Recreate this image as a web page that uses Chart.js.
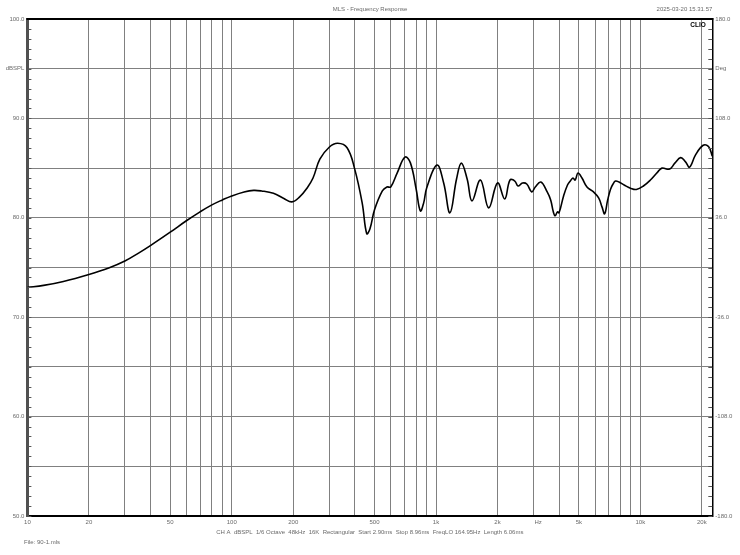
<!DOCTYPE html>
<html>
<head>
<meta charset="utf-8">
<script src="https://cdn.jsdelivr.net/npm/chart.js@4/dist/chart.umd.min.js"></script>
<style>
html,body{margin:0;padding:0;background:#fff;}
#wrap{width:740px;height:555px;position:relative;}
</style>
</head>
<body>
<div id="wrap"><canvas id="c" width="740" height="555" style="width:740px;height:555px"></canvas></div>
<script>
// ---- data ----
const freqHz = [10,12,15,20,25,30,35,40,50,60,70,80,90,100,115,128,140,160,180,197,215,234,250,270,300,330,367,400,435,458,475,500,546,575,600,645,705,750,800,838,870,900,1010,1090,1170,1260,1330,1420,1500,1650,1810,2000,2170,2300,2430,2520,2650,2780,2940,3060,3260,3500,3640,3750,3830,3930,4000,4210,4400,4540,4680,4800,4950,5180,5480,5900,6250,6490,6690,6920,7140,7350,7560,7860,8330,9010,9560,10350,11200,12150,12750,13900,14750,15750,16600,17420,18600,20300,21600,22500];
const splDb = [73.0,73.2,73.6,74.3,74.95,75.65,76.45,77.2,78.55,79.7,80.6,81.3,81.8,82.2,82.6,82.76,82.7,82.46,81.95,81.6,82.1,83.0,84.0,85.9,87.1,87.5,87.05,84.9,81.5,78.4,78.9,80.8,82.7,83.1,83.1,84.5,86.1,85.5,82.85,80.7,81.5,83.0,85.3,83.5,80.5,83.9,85.5,83.9,81.7,83.8,81.0,83.5,81.9,83.8,83.7,83.2,83.5,83.4,82.6,83.1,83.6,82.6,81.8,80.6,80.2,80.6,80.5,82.2,83.3,83.7,84.0,83.8,84.5,84.0,83.1,82.6,82.0,81.1,80.4,81.8,82.85,83.4,83.7,83.6,83.3,82.95,82.85,83.2,83.8,84.6,85.0,84.9,85.5,86.05,85.65,85.1,86.3,87.3,87.15,86.2];

const xGrid = [10,20,30,40,50,60,70,80,90,100,200,300,400,500,600,700,800,900,1000,2000,3000,4000,5000,6000,7000,8000,9000,10000,20000];
const xLabels = {10:'10',20:'20',50:'50',100:'100',200:'200',500:'500',1000:'1k',2000:'2k',3162:'Hz',5000:'5k',10000:'10k',20000:'20k'};
const hzPos = 3162;
const yLabels = {100:'100.0',95:'dBSPL',90:'90.0',80:'80.0',70:'70.0',60:'60.0',50:'50.0'};
const y2Labels = {180:'180.0',144:'Deg',108:'108.0',36:'36.0','-36':'-36.0','-108':'-108.0','-180':'-180.0'};

const titleText = 'MLS - Frequency Response';
const dateText = '2025-03-20 15.31.57';
const footerText = 'CH A  dBSPL  1/6 Octave  48kHz  16K  Rectangular  Start 2.90ms  Stop 8.96ms  FreqLO 164.95Hz  Length 6.06ms';
const fileText = 'File: 90-1.mls';

const FONT = "'Liberation Sans', Arial, sans-serif";
const TXT = '#6a6a6a';
const GRID = '#808080';

const textPlugin = {
  id: 'extras',
  afterDraw(chart) {
    const ctx = chart.ctx, a = chart.chartArea;
    const y = chart.scales.y;
    ctx.save();
    ctx.strokeStyle = '#555';
    ctx.lineWidth = 1;
    for (let v = 50; v <= 100; v++) {
      const py = Math.round(y.getPixelForValue(v)) + 0.5;
      ctx.beginPath();
      ctx.moveTo(a.left, py); ctx.lineTo(a.left + 4, py);
      ctx.moveTo(a.right - 4, py); ctx.lineTo(a.right, py);
      ctx.stroke();
    }
    ctx.strokeStyle = '#000';
    ctx.lineWidth = 2;
    ctx.beginPath(); ctx.moveTo(a.left - 1, a.top); ctx.lineTo(a.right + 1, a.top); ctx.stroke();
    ctx.fillStyle = TXT;
    ctx.font = '6px ' + FONT;
    ctx.textBaseline = 'middle';
    ctx.textAlign = 'center';
    ctx.fillText(titleText, 370, 9);
    ctx.fillText(footerText, (a.left + a.right) / 2, 532);
    ctx.textAlign = 'right';
    ctx.fillText(dateText, a.right, 9);
    ctx.textAlign = 'left';
    ctx.fillText(fileText, 24, 542);
    ctx.fillStyle = '#000';
    ctx.font = 'bold 6.5px ' + FONT;
    ctx.textAlign = 'center';
    ctx.fillText('CLIO', 698, 25);
    ctx.restore();
  }
};

new Chart(document.getElementById('c'), {
  type: 'line',
  data: {
    datasets: [{
      data: freqHz.map((f, i) => ({x: f, y: splDb[i]})),
      borderColor: '#000',
      borderWidth: 1.6,
      pointRadius: 0,
      tension: 0.4,
      fill: false,
      yAxisID: 'y'
    }]
  },
  options: {
    responsive: false,
    animation: false,
    devicePixelRatio: 1,
    layout: {padding: {top: 19, left: 0, right: 0, bottom: 0}},
    plugins: {legend: {display: false}, tooltip: {enabled: false}, title: {display: false}},
    scales: {
      x: {
        type: 'logarithmic',
        min: 10, max: 22500,
        afterBuildTicks: s => { s.ticks = xGrid.concat([hzPos]).sort((p, q) => p - q).map(v => ({value: v})); },
        afterFit: s => { s.height = 39; },
        grid: {color: c => (c.tick && c.tick.value === hzPos) ? 'rgba(0,0,0,0)' : GRID, lineWidth: 1, drawTicks: false},
        border: {color: '#000', width: 2},
        ticks: {
          autoSkip: false, maxRotation: 0, minRotation: 0, padding: 3,
          color: TXT, font: {size: 6, family: FONT},
          callback: (v, i, t) => xLabels[t[i].value] || ''
        }
      },
      y: {
        type: 'linear', position: 'left',
        min: 50, max: 100,
        afterFit: s => { s.width = 27.4; },
        grid: {color: GRID, lineWidth: 1, drawTicks: false},
        border: {color: '#505050', width: 3},
        ticks: {
          stepSize: 5, autoSkip: false, padding: 3,
          color: TXT, font: {size: 6, family: FONT},
          callback: v => yLabels[v] || ''
        }
      },
      y2: {
        type: 'linear', position: 'right',
        min: -180, max: 180,
        afterFit: s => { s.width = 27.7; },
        grid: {drawOnChartArea: false, drawTicks: false},
        border: {color: '#000', width: 1.5},
        ticks: {
          stepSize: 36, autoSkip: false, padding: 3,
          color: TXT, font: {size: 6, family: FONT},
          callback: v => y2Labels[v] || ''
        }
      }
    }
  },
  plugins: [textPlugin]
});
</script>
</body>
</html>
